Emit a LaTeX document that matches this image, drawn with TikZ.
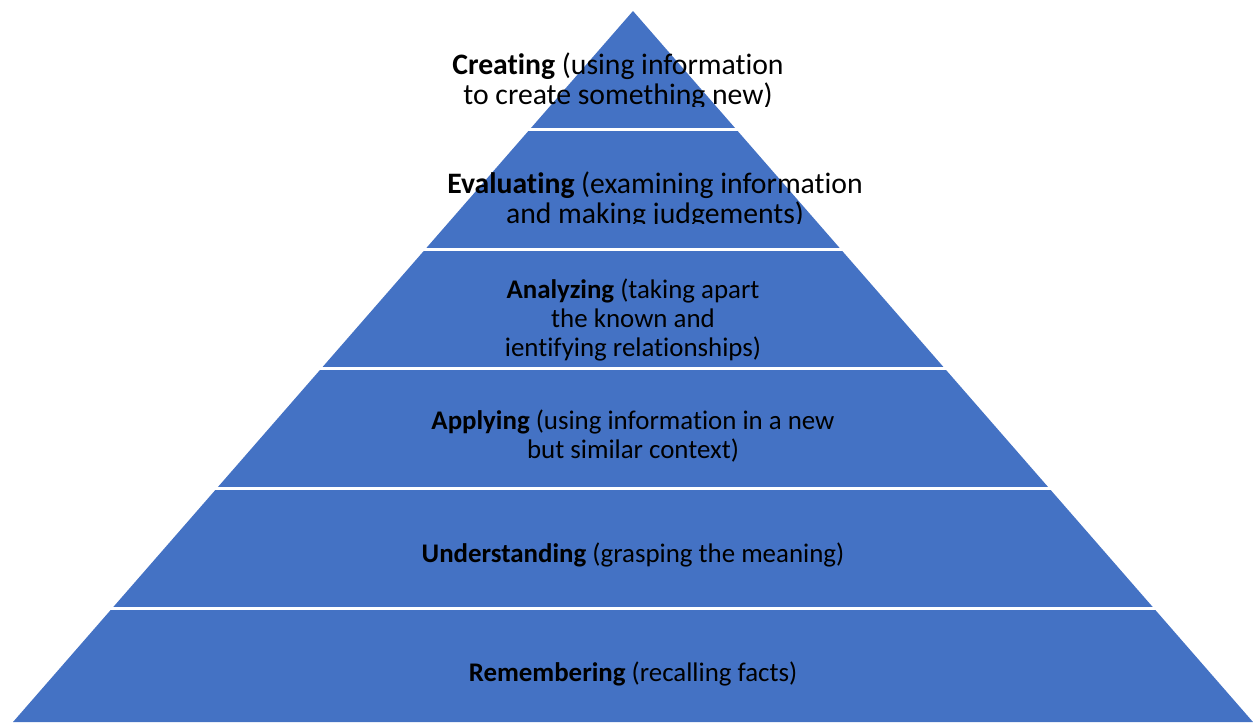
\documentclass[tikz,border=0pt]{standalone}
\usepackage{fontspec}
\setmainfont{Carlito}[Ligatures=CommonOff]
\definecolor{pyrblue}{HTML}{4472C4}
\tikzset{
  lvl/.style={align=center,inner sep=0pt,font=\fontsize{15.3}{16.3}\selectfont},
  toplvl/.style={align=center,inner sep=0pt,font=\fontsize{16.9}{16.8}\selectfont}
}

\begin{document}
\begin{tikzpicture}[x=0.2mm,y=-0.2mm]
  \useasboundingbox (0,0) rectangle (1253,722);
  \fill[pyrblue] (633,11) -- (1253,722) -- (13,722) -- cycle;
  % gaps between the levels
  \foreach \y in {129.5,249,368.5,488.5,608.5}
    \draw[white,line width=0.6mm] (0,\y) -- (1253,\y);
  % the two top labels sit in boxes that cut their last line
  \begin{scope}
    \clip (300,0) rectangle (950,106);
    \node[toplvl] (creating) at (618,81)
      {\textbf{Creating} (using information\\to create something new)};
  \end{scope}
  \begin{scope}
    \clip (300,140) rectangle (950,223);
    \node[toplvl] (evaluating) at (655,200)
      {\textbf{Evaluating} (examining information\\and making judgements)};
  \end{scope}
  \node[lvl] (analyzing) at (633,320)
    {\textbf{Analyzing} (taking apart\\the known and\\ientifying relationships)};
  \node[lvl] (applying) at (633,436)
    {\textbf{Applying} (using information in a new\\but similar context)};
  \node[lvl,anchor=base] (understanding) at (633,562)
    {\textbf{Understanding} (grasping the meaning)};
  \node[lvl,anchor=base] (remembering) at (633,681)
    {\textbf{Remembering} (recalling facts)};
\end{tikzpicture}
\end{document}
